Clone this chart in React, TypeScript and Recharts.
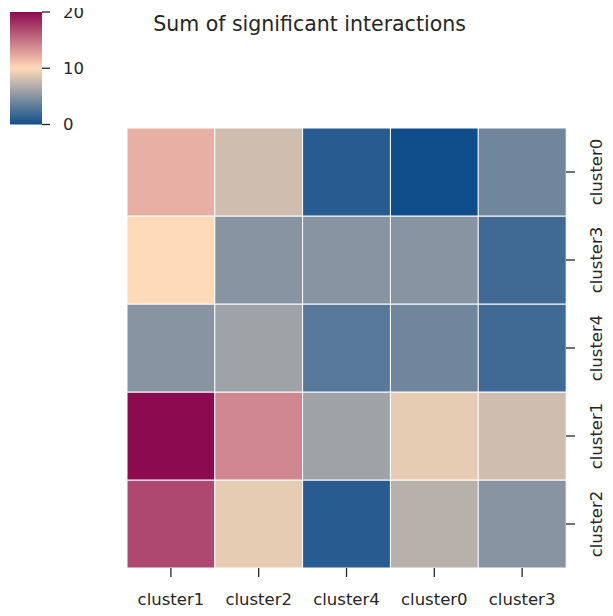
import { Bar, BarChart, Cell, XAxis, YAxis } from 'recharts'

const columns = ['cluster1', 'cluster2', 'cluster4', 'cluster0', 'cluster3']
const rows = ['cluster0', 'cluster3', 'cluster4', 'cluster1', 'cluster2']

// one list per row, values in column order
const cluster0Row = [12, 8, 1, 0, 4]
const cluster3Row = [10, 5, 5, 5, 2]
const cluster4Row = [5, 6, 3, 4, 2]
const cluster1Row = [20, 14, 6, 9, 8]
const cluster2Row = [17, 9, 1, 7, 5]
const values = [cluster0Row, cluster3Row, cluster4Row, cluster1Row, cluster2Row]

const colorbarTicks = [0, 10, 20]
const vmin = 0
const vmax = 20

// dodgerblue4 -> peachpuff -> deeppink4
const low = [16, 78, 139]
const mid = [255, 218, 185]
const high = [139, 10, 80]

function colorFor(v: number) {
  const t = (v - vmin) / (vmax - vmin)
  const [a, b, s] = t < 0.5 ? [low, mid, t * 2] : [mid, high, (t - 0.5) * 2]
  const c = a.map((x, i) => Math.round(x + (b[i] - x) * s))
  return `rgb(${c[0]},${c[1]},${c[2]})`
}

const font = '"DejaVu Sans", sans-serif'
const ink = '#262626'

// each cell is one unit of a stacked column, coloured by its value
const stackData = columns.map((col) => {
  const d: Record<string, string | number> = { col }
  rows.forEach((r) => { d[r] = 1 })
  return d
})
const yTicks = rows.map((_, i) => rows.length - i - 0.5)

function XTick({ x, y, payload }: any) {
  return (
    <text x={x} y={y + 28} textAnchor="middle" fill={ink} fontSize={16.5} fontFamily={font}>
      {payload.value}
    </text>
  )
}

function YTick({ x, y, payload }: any) {
  const label = rows[rows.length - 1 - Math.floor(payload.value)]
  const bx = x + 27
  return (
    <text x={bx} y={y} transform={`rotate(-90, ${bx}, ${y})`} textAnchor="middle" fill={ink} fontSize={16.5} fontFamily={font}>
      {label}
    </text>
  )
}

export default function App() {
  return (
    <div style={{ position: 'relative', width: 613, height: 616, margin: -8, background: '#fff' }}>
      <div style={{ position: 'absolute', left: 0, top: 0 }}>
        <BarChart width={613} height={616} data={stackData} margin={{ top: 128, right: 7, bottom: 8, left: 127 }} barCategoryGap={0} barGap={0}>
          <XAxis dataKey="col" type="category" axisLine={false} tickSize={9} tickMargin={0} tickLine={{ stroke: ink, strokeWidth: 1.3 }} tick={<XTick />} height={40} interval={0} />
          <YAxis orientation="right" type="number" domain={[0, rows.length]} ticks={yTicks} axisLine={false} tickSize={9} tickMargin={0} tickLine={{ stroke: ink, strokeWidth: 1.3 }} tick={<YTick />} width={40} interval={0} />
          {[...rows].reverse().map((r) => {
            const i = rows.indexOf(r)
            return (
              <Bar key={r} dataKey={r} stackId="cells" stroke="#fff" strokeWidth={1} isAnimationActive={false}>
                {columns.map((c, j) => <Cell key={c} fill={colorFor(values[i][j])} />)}
              </Bar>
            )
          })}
          <text x={309.5} y={31} textAnchor="middle" fill={ink} fontSize={20.5} fontFamily={font}>
            Sum of significant interactions
          </text>
        </BarChart>
      </div>
      <div style={{ position: 'absolute', left: 0, top: 0 }}>
        <BarChart width={100} height={140} data={[{ name: 'cbar', v: vmax }]} margin={{ top: 12, right: 8, bottom: 15.5, left: 10 }} barCategoryGap={0}>
          <defs>
            <linearGradient id="cbarGradient" x1="0" y1="0" x2="0" y2="1">
              <stop offset="0%" stopColor={colorFor(vmax)} />
              <stop offset="50%" stopColor={colorFor((vmin + vmax) / 2)} />
              <stop offset="100%" stopColor={colorFor(vmin)} />
            </linearGradient>
          </defs>
          <XAxis dataKey="name" hide />
          <YAxis orientation="right" type="number" domain={[vmin, vmax]} ticks={colorbarTicks} axisLine={false} tickSize={8} tickMargin={13} tickLine={{ stroke: ink, strokeWidth: 1.3 }} tick={{ fill: ink, fontSize: 16.5, fontFamily: font }} width={50} interval={0} />
          <Bar dataKey="v" fill="url(#cbarGradient)" isAnimationActive={false} />
        </BarChart>
      </div>
    </div>
  )
}
